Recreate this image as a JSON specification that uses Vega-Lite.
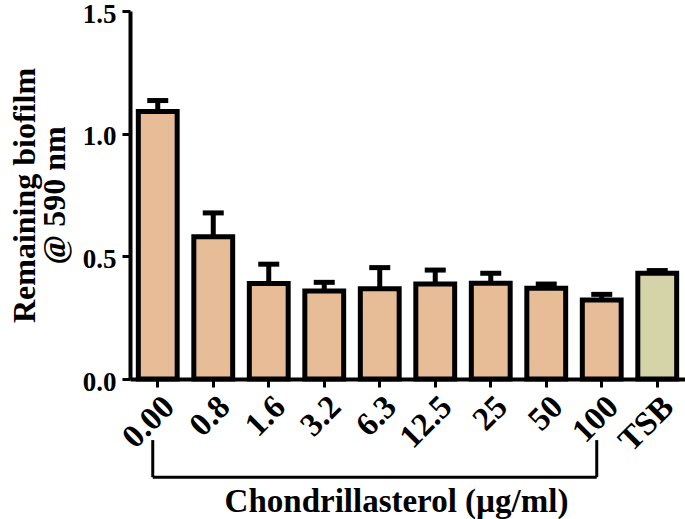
{
  "$schema": "https://vega.github.io/schema/vega-lite/v6.json",
  "width": 555,
  "height": 368,
  "autosize": "none",
  "padding": {"left": 130, "top": 11, "right": 0, "bottom": 140},
  "background": "white",
  "datasets": {
    "bars": [
      {"conc": "0.00", "value": 1.09, "err": 0.045, "group": "treated"},
      {"conc": "0.8", "value": 0.58, "err": 0.097, "group": "treated"},
      {"conc": "1.6", "value": 0.389, "err": 0.079, "group": "treated"},
      {"conc": "3.2", "value": 0.359, "err": 0.035, "group": "treated"},
      {"conc": "6.3", "value": 0.368, "err": 0.086, "group": "treated"},
      {"conc": "12.5", "value": 0.387, "err": 0.057, "group": "treated"},
      {"conc": "25", "value": 0.39, "err": 0.041, "group": "treated"},
      {"conc": "50", "value": 0.37, "err": 0.017, "group": "treated"},
      {"conc": "100", "value": 0.322, "err": 0.023, "group": "treated"},
      {"conc": "TSB", "value": 0.431, "err": 0.011, "group": "control"}
    ],
    "bracketEnds": [{"end": "0.00"}, {"end": "100"}]
  },
  "config": {
    "view": {"stroke": null},
    "axis": {
      "domainColor": "black",
      "domainWidth": 4,
      "tickColor": "black",
      "tickWidth": 3,
      "tickSize": 8,
      "grid": false,
      "labelFont": "Liberation Serif",
      "labelFontWeight": "bold",
      "labelFontSize": 29,
      "labelColor": "black",
      "titleFont": "Liberation Serif",
      "titleFontWeight": "bold",
      "titleFontSize": 32,
      "titleColor": "black"
    }
  },
  "layer": [
    {
      "data": {"name": "bars"},
      "mark": {"type": "bar", "stroke": "black", "strokeWidth": 5},
      "encoding": {
        "x": {
          "field": "conc",
          "type": "nominal",
          "sort": null,
          "scale": {
            "domain": ["0.00", "0.8", "1.6", "3.2", "6.3", "12.5", "25", "50", "100", "TSB"],
            "paddingInner": 0.3,
            "paddingOuter": 0.15
          },
          "axis": {
            "labelAngle": -45,
            "labelPadding": 3,
            "labelFontSize": 33,
            "title": "Chondrillasterol (µg/ml)",
            "titleFontSize": 33,
            "titleX": 266,
            "titleAlign": "center",
            "titlePadding": 28
          }
        },
        "y": {
          "field": "value",
          "type": "quantitative",
          "scale": {"domain": [0, 1.5], "nice": false},
          "axis": {
            "values": [0, 0.5, 1.0, 1.5],
            "format": ".1f",
            "labelPadding": 6,
            "labelFontSize": 27,
            "labelOffset": 3,
            "title": ["Remaining biofilm", "@ 590 nm"],
            "titleLineHeight": 30,
            "titlePadding": 11
          }
        },
        "fill": {
          "field": "group",
          "type": "nominal",
          "scale": {"domain": ["treated", "control"], "range": ["#E6BD97", "#D4D4A8"]},
          "legend": null
        }
      }
    },
    {
      "data": {"name": "bars"},
      "transform": [{"calculate": "datum.value + datum.err", "as": "upper"}],
      "mark": {"type": "rule", "color": "black", "strokeWidth": 5},
      "encoding": {
        "x": {"field": "conc", "type": "nominal"},
        "y": {"field": "value", "type": "quantitative"},
        "y2": {"field": "upper"}
      }
    },
    {
      "data": {"name": "bars"},
      "transform": [{"calculate": "datum.value + datum.err", "as": "upper"}],
      "mark": {"type": "tick", "color": "black", "size": 21, "thickness": 5, "opacity": 1},
      "encoding": {
        "x": {"field": "conc", "type": "nominal"},
        "y": {"field": "upper", "type": "quantitative"}
      }
    },
    {
      "data": {"values": [{}]},
      "mark": {"type": "rule", "color": "black", "strokeWidth": 3, "xOffset": -5, "x2Offset": -5},
      "encoding": {
        "x": {"datum": "0.00", "type": "nominal"},
        "x2": {"datum": "100"},
        "y": {"datum": -0.4, "type": "quantitative"}
      }
    },
    {
      "data": {"name": "bracketEnds"},
      "mark": {"type": "rule", "color": "black", "strokeWidth": 3, "xOffset": -5},
      "encoding": {
        "x": {"field": "end", "type": "nominal"},
        "y": {"datum": -0.249, "type": "quantitative"},
        "y2": {"datum": -0.4}
      }
    }
  ]
}
